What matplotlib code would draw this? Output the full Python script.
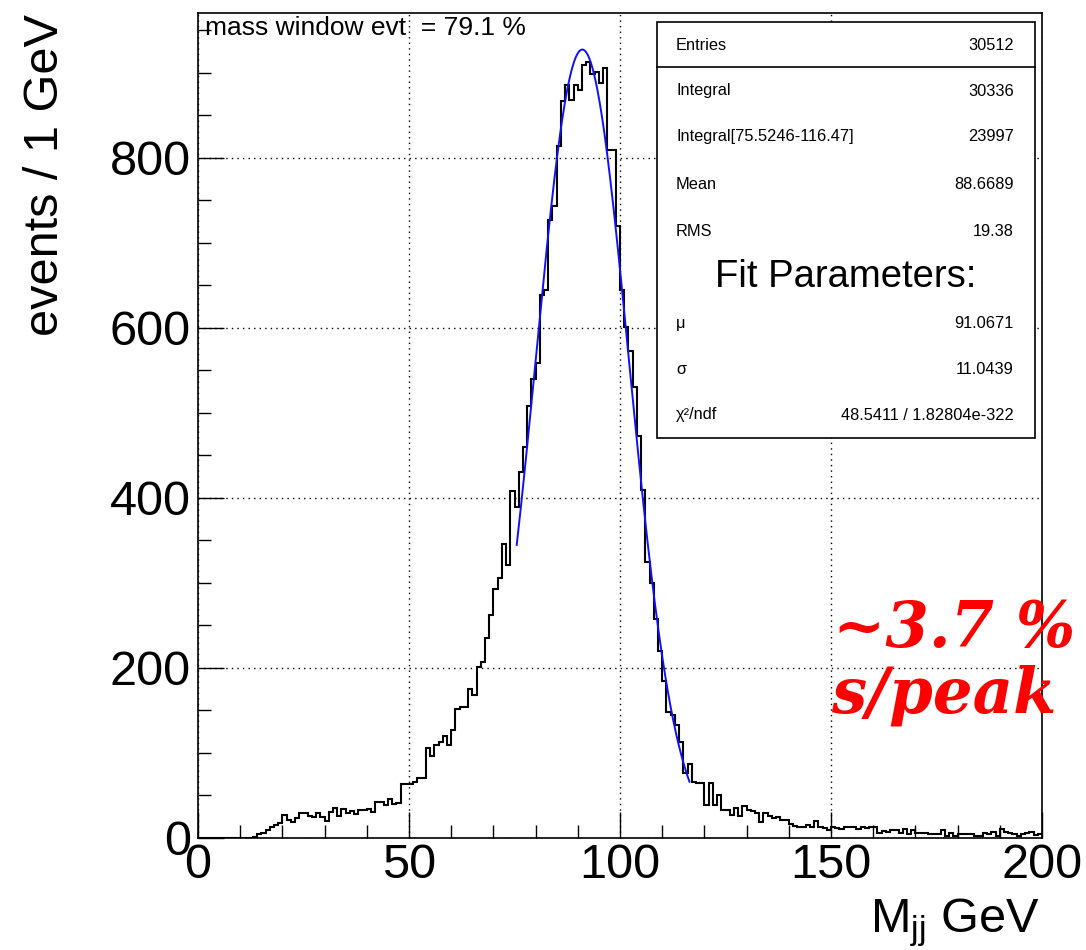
import numpy as np
import matplotlib
matplotlib.use("Agg")
import matplotlib.pyplot as plt
from matplotlib.patches import Rectangle
from matplotlib.lines import Line2D

plt.rcParams['font.family'] = ['Liberation Sans', 'DejaVu Sans']
plt.rcParams['mathtext.default'] = 'regular'

# ---------------- data ----------------
bin_edges_gev = np.arange(0, 201, 1)
events = [
    0, 0, 0, 0, 0, 0, 0, 0, 0, 0,
    0, 0, 0, 1, 4, 6, 9, 13, 15, 17,
    27, 21, 18, 23, 29, 29, 25, 24, 29, 24,
    20, 30, 35, 25, 34, 29, 31, 28, 32, 32,
    34, 30, 42, 42, 39, 46, 40, 41, 63, 63,
    63, 66, 70, 70, 105, 96, 109, 113, 120, 109,
    127, 151, 154, 154, 175, 168, 201, 207, 235, 262,
    292, 305, 346, 321, 408, 389, 430, 459, 508, 540,
    558, 638, 644, 726, 743, 813, 866, 885, 868, 885,
    880, 909, 912, 898, 901, 888, 905, 809, 809, 719,
    644, 601, 572, 530, 472, 409, 324, 299, 257, 220,
    184, 148, 144, 133, 112, 76, 87, 66, 64, 64,
    39, 64, 39, 50, 32, 33, 27, 35, 26, 37,
    32, 31, 29, 19, 29, 26, 23, 24, 21, 21,
    16, 14, 12, 12, 15, 13, 20, 13, 11, 9,
    13, 11, 10, 13, 12, 12, 10, 12, 11, 13,
    12, 5, 8, 7, 9, 9, 5, 10, 4, 9,
    6, 6, 5, 4, 4, 4, 9, 2, 6, 2,
    4, 4, 4, 4, 2, 2, 6, 4, 7, 2,
    10, 7, 6, 4, 2, 4, 6, 7, 3, 4,
]

# fit (gaussian) parameters as shown in the stat box; amplitude
fit_mu = 91.0671
fit_sigma = 11.0439
fit_amp = 927
fit_range = (75.5246, 116.47)

stat_labels = ["Entries", "Integral", "Integral[75.5246-116.47]", "Mean", "RMS"]
stat_values = ["30512", "30336", "23997", "88.6689", "19.38"]
fit_labels = ["\u03bc", "\u03c3", "\u03c7\u00b2/ndf"]
fit_values = ["91.0671", "11.0439", "48.5411 / 1.82804e-322"]

# ---------------- figure ----------------
W, H = 1086, 950
fig = plt.figure(figsize=(W / 100, H / 100), dpi=100)


def fx(x):
    return x / W


def fy(y):
    return 1 - y / H


ax_l, ax_r, ax_t, ax_b = 198, 1042, 13, 837.7
ax = fig.add_axes([fx(ax_l), fy(ax_b), (ax_r - ax_l) / W, (ax_b - ax_t) / H])
ax.set_xlim(0, 200)
ax.set_ylim(0, 970)

ax.stairs(events, bin_edges_gev, color='black', lw=1.5, baseline=None, zorder=3)

xf = np.linspace(fit_range[0], fit_range[1], 300)
yf = fit_amp * np.exp(-0.5 * ((xf - fit_mu) / fit_sigma) ** 2)
ax.plot(xf, yf, color='#1010ff', lw=1.4, zorder=4)

ax.set_xticks([0, 50, 100, 150, 200])
ax.set_xticks(np.arange(0, 201, 10), minor=True)
ax.set_yticks([0, 200, 400, 600, 800])
ax.set_yticks(np.arange(0, 951, 50), minor=True)
ax.tick_params(which='major', direction='in', length=18.5, width=1.0,
               labelsize=35, top=False, right=False)
ax.tick_params(which='minor', direction='in', length=9.5, width=1.0,
               top=False, right=False)
ax.tick_params(axis='x', pad=4)
ax.tick_params(axis='y', pad=5)
for s in ax.spines.values():
    s.set_linewidth(1.2)

ax.grid(True, which='major', linestyle=(0, (1, 3)), color='black', lw=1.0)

# texts
fig.text(fx(205), fy(28), "mass window evt  = 79.1 %", fontsize=19,
         ha='left', va='center')
fig.text(fx(46), fy(14), "events / 1 GeV", rotation=90, fontsize=35,
         ha='center', va='top')
fig.text(fx(1040), fy(932), "M$_{jj}$ GeV", fontsize=35, ha='right',
         va='baseline')

red_kw = dict(color='#ff0000', fontsize=45, family='DejaVu Serif',
              weight='bold', style='italic', va='baseline', ha='left')
fig.text(fx(833), fy(647), "~3.7 %", **red_kw)
fig.text(fx(831), fy(712), "s/peak", **red_kw)

# stat box
bx0, bx1, by0, by1 = 657, 1035, 22, 438
box = Rectangle((fx(bx0), fy(by1)), (bx1 - bx0) / W, (by1 - by0) / H,
                transform=fig.transFigure, facecolor='white',
                edgecolor='black', lw=1.2, zorder=5)
fig.patches.append(box)
fig.lines.append(Line2D([fx(bx0), fx(bx1)], [fy(67), fy(67)],
                        transform=fig.transFigure, color='black', lw=1.2,
                        zorder=6))

row_y = [45.5, 91, 136.5, 185, 231]
for lab, val, yy in zip(stat_labels, stat_values, row_y):
    fig.text(fx(676), fy(yy), lab, fontsize=11.8, ha='left', va='center',
             zorder=7)
    fig.text(fx(1014), fy(yy), val, fontsize=11.8, ha='right', va='center',
             zorder=7)
fig.text(fx(846), fy(277), "Fit Parameters:", fontsize=27.5, ha='center',
         va='center', zorder=7)
fit_y = [323, 369, 415]
for lab, val, yy in zip(fit_labels, fit_values, fit_y):
    fig.text(fx(676), fy(yy), lab, fontsize=11.8, ha='left', va='center',
             zorder=7)
    fig.text(fx(1014), fy(yy), val, fontsize=11.8, ha='right', va='center',
             zorder=7)

fig.savefig("out.png", dpi=100)
